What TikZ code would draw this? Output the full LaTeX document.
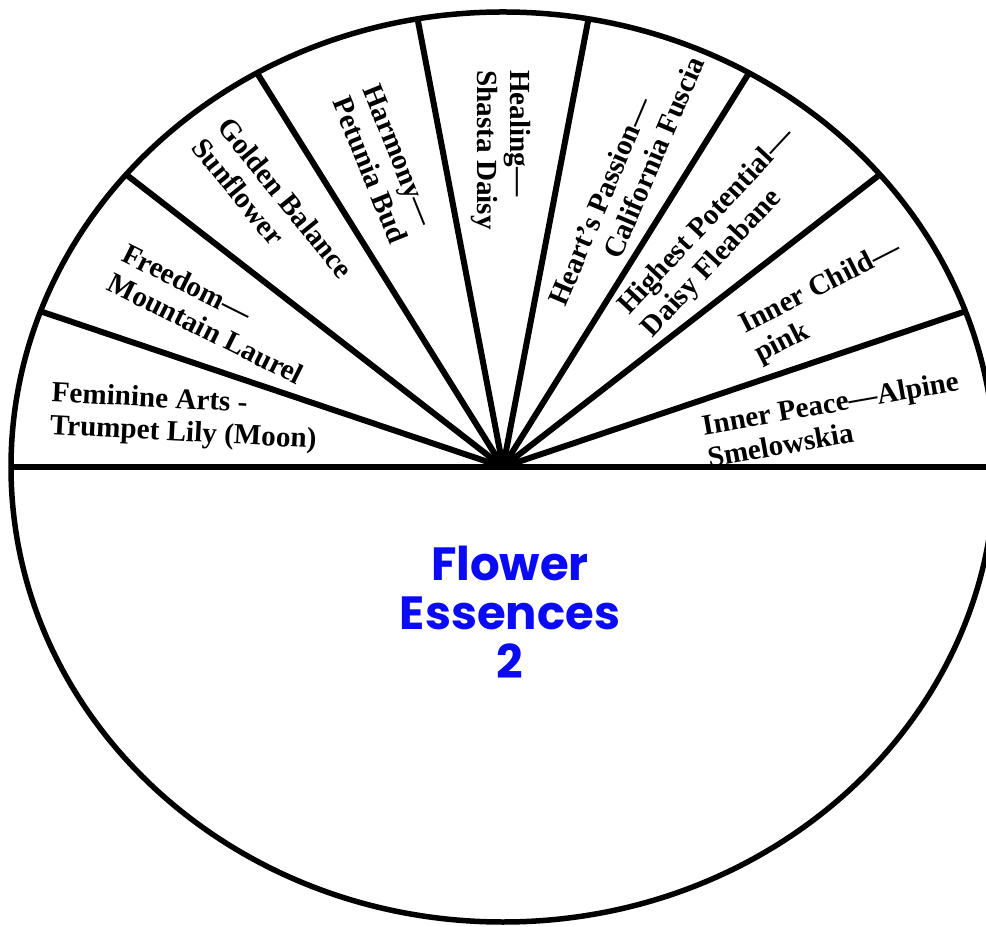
\documentclass[tikz,border=0pt]{standalone}
\usepackage{fontspec}
\setmainfont{Liberation Serif}
\newfontfamily\titlefont{Poppins}
\usepackage{tikz}
\definecolor{titleblue}{RGB}{10,10,245}

\begin{document}
\begin{tikzpicture}[x=0.02cm, y=0.02cm, rim/.style={line width=0.11cm}, spoke/.style={line width=0.12cm}, lab/.style={align=left,inner sep=0pt,font=\fontsize{16.6}{18.6}\selectfont\bfseries}]
\fill[white] (0,0) rectangle (986,926);
\useasboundingbox (0,0) rectangle (986,926);
\clip (0,0) rectangle (986,926);
\coordinate (hub) at (503,459);
\draw[rim] (hub) ellipse [x radius=492, y radius=455];
\path (hub) ++(180:492 and 455) coordinate (w);
\path (hub) ++(0:492 and 455) coordinate (e);
\draw[spoke] (w) -- (e);
\foreach \a in {20,40,...,160} \draw[spoke] (hub) -- ++(\a:492 and 455);
% sector texts
\node[lab,rotate=-3] (feminine) at (184,508) {Feminine Arts -\\Trumpet Lily (Moon)};
\node[lab,rotate=-26.5] (freedom) at (213,612) {Freedom—\\Mountain Laurel};
\node[lab,rotate=-51] (golden) at (273,718) {Golden Balance\\Sunflower};
\node[lab,rotate=-68] (harmony) at (385,762) {Harmony—\\Petunia Bud};
\node[lab,rotate=-90] (healing) at (501,776) {Healing—\\Shasta Daisy};
\node[lab,rotate=67] (heart) at (626,745) {Heart’s Passion—\\\hspace*{1.3cm}California Fuscia};
\node[lab,rotate=47] (highest) at (719,693) {Highest Potential—\\Daisy Fleabane};
\node[lab,rotate=27] (child) at (828,624) {Inner Child—\\pink};
\node[lab,rotate=10] (peace) at (833,507) {Inner Peace—Alpine\\Smelowskia};
% title in the lower half
\node[align=center, text=titleblue, font={\titlefont\fontsize{26.5}{28}\selectfont\bfseries}] (title) at (510,314) {Flower\\Essences\\2};
\end{tikzpicture}
\end{document}
